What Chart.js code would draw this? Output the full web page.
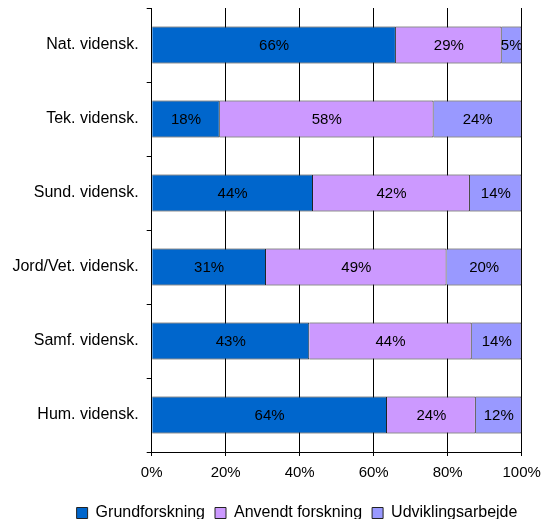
<!DOCTYPE html>
<html>
<head>
<meta charset="utf-8">
<script src="https://cdn.jsdelivr.net/npm/chart.js@4/dist/chart.umd.min.js"></script>
<style>
  html, body { margin: 0; padding: 0; background: #fff; overflow: hidden; }
  #wrap { width: 543px; height: 531px; }
</style>
</head>
<body>
<div id="wrap"><canvas id="c" width="543" height="531"></canvas></div>
<script>
const categories = ["Nat. vidensk.", "Tek. vidensk.", "Sund. vidensk.", "Jord/Vet. vidensk.", "Samf. vidensk.", "Hum. vidensk."];
const seriesNames = ["Grundforskning", "Anvendt forskning", "Udviklingsarbejde"];
const grundforskning = [66.0, 18.4, 43.6, 30.9, 42.6, 63.6];
const anvendtForskning = [28.6, 57.8, 42.4, 48.8, 43.9, 24.0];
const udviklingsarbejde = [5.4, 23.8, 14.0, 20.3, 13.5, 12.4];
const xTicks = [0, 20, 40, 60, 80, 100];

const FONT = '"Liberation Sans", Arial, sans-serif';

const labelPlugin = {
  id: 'barLabels',
  afterDatasetsDraw(chart) {
    const ctx = chart.ctx;
    ctx.save();
    ctx.font = '15px ' + FONT;
    ctx.fillStyle = '#000';
    ctx.textAlign = 'center';
    ctx.textBaseline = 'middle';
    chart.data.datasets.forEach((ds, i) => {
      const meta = chart.getDatasetMeta(i);
      meta.data.forEach((el, j) => {
        const p = el.getProps(['x', 'y', 'base'], true);
        ctx.fillText(Math.round(ds.data[j]) + '%', (p.x + p.base) / 2, p.y + 1);
      });
    });
    ctx.restore();
  }
};

// shift the legend so that it is centred where the original one sits
const legendShift = {
  id: 'legendShift',
  afterLayout(chart) {
    const lg = chart.legend;
    if (!lg) return;
    const target = 297;
    const cur = (lg.left + lg.right) / 2;
    const d = target - cur;
    lg.left += d; lg.right += d;
  }
};

new Chart(document.getElementById('c'), {
  type: 'bar',
  data: {
    labels: categories,
    datasets: [
      { label: seriesNames[0], data: grundforskning, backgroundColor: '#0066CC', borderColor: '#222222', borderWidth: 1 },
      { label: seriesNames[1], data: anvendtForskning, backgroundColor: '#CC99FF', borderColor: '#222222', borderWidth: 1 },
      { label: seriesNames[2], data: udviklingsarbejde, backgroundColor: '#9999FF', borderColor: '#222222', borderWidth: 1 }
    ]
  },
  options: {
    indexAxis: 'y',
    responsive: false,
    animation: false,
    devicePixelRatio: 1,
    layout: { padding: { left: 4, right: 21.3, top: 8, bottom: 0 } },
    datasets: { bar: { barPercentage: 0.5, categoryPercentage: 1.0 } },
    scales: {
      x: {
        stacked: true,
        min: 0, max: 100,
        afterBuildTicks(scale) { scale.ticks = xTicks.map(v => ({ value: v })); },
        ticks: { callback: v => v + '%', color: '#000', font: { family: FONT, size: 15 }, padding: 8, maxRotation: 0 },
        grid: { color: '#000', lineWidth: 1, tickLength: 4 },
        border: { color: '#000', width: 1 },
        afterFit(scale) { scale.height = 43; scale.paddingLeft = 0; scale.paddingRight = 0; }
      },
      y: {
        stacked: true,
        ticks: { color: '#000', font: { family: FONT, size: 16 }, padding: 8, autoSkip: false },
        grid: { drawOnChartArea: false, color: '#000', tickLength: 5, offset: true },
        border: { color: '#000', width: 1 },
        afterFit(scale) { scale.width = 151.7 - 4; scale.paddingTop = 0; scale.paddingBottom = 0; }
      }
    },
    plugins: {
      legend: {
        position: 'bottom',
        labels: { boxWidth: 11, boxHeight: 11, padding: 10, color: '#000', font: { family: FONT, size: 16 } }
      },
      tooltip: { enabled: false }
    }
  },
  plugins: [labelPlugin, legendShift]
});
</script>
</body>
</html>
